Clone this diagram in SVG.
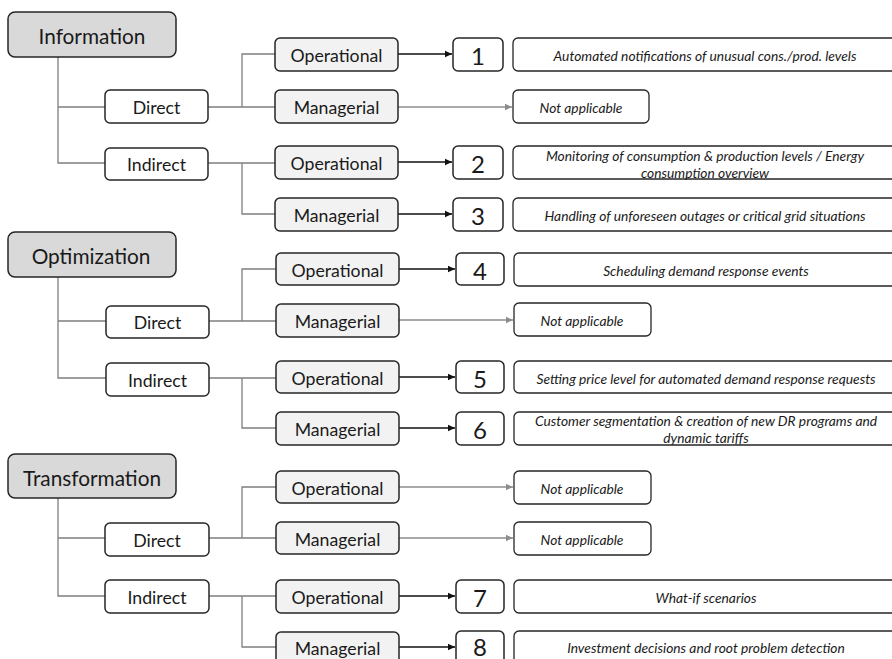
<svg xmlns="http://www.w3.org/2000/svg" width="892" height="659" viewBox="0 0 892 659">
<style>
text{font-family:Lato,"Open Sans","Liberation Sans",sans-serif;fill:#1a1a1a;text-anchor:middle;dominant-baseline:central}
.top rect{fill:#d9d9d9;stroke:#262626;stroke-width:1.5}
.top text{font-size:20.8px}
.mid rect{fill:#ffffff;stroke:#262626;stroke-width:1.5}
.mid text{font-size:17.7px}
.leaf rect{fill:#f2f2f2;stroke:#262626;stroke-width:1.5}
.leaf text{font-size:17.7px}
.num rect{fill:#ffffff;stroke:#262626;stroke-width:1.5}
.num text{font-size:24px}
.desc rect{fill:#ffffff;stroke:#262626;stroke-width:1.3}
.desc text{font-size:13.8px;font-style:italic}
.tree path{fill:none;stroke:#7f7f7f;stroke-width:1.3}
.ab{fill:none;stroke:#111;stroke-width:1.6;marker-end:url(#mb)}
.ag{fill:none;stroke:#8c8c8c;stroke-width:1.3;marker-end:url(#mg)}
</style>
<defs>
<marker id="mb" markerWidth="8" markerHeight="8" refX="7" refY="4" orient="auto" markerUnits="userSpaceOnUse"><path d="M0,0.8 L7,4 L0,7.2 Z" fill="#111"/></marker>
<marker id="mg" markerWidth="8" markerHeight="8" refX="7" refY="4" orient="auto" markerUnits="userSpaceOnUse"><path d="M0,0.8 L7,4 L0,7.2 Z" fill="#8c8c8c"/></marker>
</defs>
<rect width="892" height="659" fill="#ffffff"/>

<g id="connectors">
<g class="tree">
<path d="M58 57 V163 H105 M58 107 H105 M208 107 H275 M242 107 V54 H275 M208 163 H242 V214 H275 M242 163 H275"/>
<path d="M58 277 V378 H106 M58 321 H106 M209 321 H276 M242 321 V269 H276 M209 378 H242 V428 H276 M242 378 H276"/>
<path d="M58 498 V596 H105 M58 538 H105 M209 538 H276 M242 538 V487 H276 M209 596 H242 V647 H276 M242 596 H276"/>
</g>
<path class="ab" d="M398 54 H452"/>
<path class="ag" d="M398 107 H512"/>
<path class="ab" d="M398 162 H452"/>
<path class="ab" d="M398 214 H452"/>
<path class="ab" d="M399 269 H455"/>
<path class="ag" d="M399 320 H513"/>
<path class="ab" d="M399 377 H455"/>
<path class="ab" d="M399 428 H455"/>
<path class="ag" d="M399 487 H513"/>
<path class="ag" d="M399 538 H513"/>
<path class="ab" d="M399 596 H455"/>
<path class="ab" d="M399 647 H455"/>
</g>

<!-- Section 1 -->
<g id="information" class="top"><rect x="8" y="12" width="168" height="45" rx="7"/><text x="92" y="35">Information</text></g>
<g id="info-direct" class="mid"><rect x="105" y="90" width="103" height="33" rx="5"/><text x="156.5" y="107">Direct</text></g>
<g id="info-indirect" class="mid"><rect x="105" y="148" width="103" height="32" rx="5"/><text x="156.5" y="164">Indirect</text></g>
<g id="info-d-op" class="leaf"><rect x="275" y="38" width="123" height="33" rx="5"/><text x="336.5" y="55">Operational</text></g>
<g id="info-d-man" class="leaf"><rect x="275" y="90" width="123" height="33" rx="5"/><text x="336.5" y="107">Managerial</text></g>
<g id="info-i-op" class="leaf"><rect x="275" y="146" width="123" height="33" rx="5"/><text x="336.5" y="163">Operational</text></g>
<g id="info-i-man" class="leaf"><rect x="275" y="198" width="123" height="33" rx="5"/><text x="336.5" y="215">Managerial</text></g>
<g id="n1" class="num"><rect x="453" y="38" width="50" height="33" rx="5"/><text x="478" y="55">1</text></g>
<g id="d1" class="desc"><rect x="513" y="38" width="386" height="33" rx="5"/><text x="705" y="55">Automated notifications of unusual cons./prod. levels</text></g>
<g id="na1" class="desc"><rect x="513" y="90" width="136" height="33" rx="5"/><text x="581" y="107">Not applicable</text></g>
<g id="n2" class="num"><rect x="453" y="146" width="50" height="33" rx="5"/><text x="478" y="163">2</text></g>
<g id="d2" class="desc"><rect x="513" y="146" width="386" height="33" rx="5"/><text x="705" y="155">Monitoring of consumption &amp; production levels / Energy</text><text x="705" y="172">consumption overview</text></g>
<g id="n3" class="num"><rect x="453" y="198" width="50" height="33" rx="5"/><text x="478" y="215">3</text></g>
<g id="d3" class="desc"><rect x="513" y="198" width="386" height="33" rx="5"/><text x="705" y="215">Handling of unforeseen outages or critical grid situations</text></g>

<!-- Section 2 -->
<g id="optimization" class="top"><rect x="8" y="232" width="168" height="45" rx="7"/><text x="91" y="255">Optimization</text></g>
<g id="opt-direct" class="mid"><rect x="106" y="306" width="103" height="32" rx="5"/><text x="157.5" y="322.5">Direct</text></g>
<g id="opt-indirect" class="mid"><rect x="106" y="363" width="103" height="33" rx="5"/><text x="157.5" y="380">Indirect</text></g>
<g id="opt-d-op" class="leaf"><rect x="276" y="253" width="123" height="32" rx="5"/><text x="337.5" y="270">Operational</text></g>
<g id="opt-d-man" class="leaf"><rect x="276" y="304" width="123" height="33" rx="5"/><text x="337.5" y="321">Managerial</text></g>
<g id="opt-i-op" class="leaf"><rect x="276" y="361" width="123" height="32" rx="5"/><text x="337.5" y="378">Operational</text></g>
<g id="opt-i-man" class="leaf"><rect x="276" y="412" width="123" height="33" rx="5"/><text x="337.5" y="429">Managerial</text></g>
<g id="n4" class="num"><rect x="456" y="253" width="48" height="32" rx="5"/><text x="480" y="270">4</text></g>
<g id="d4" class="desc"><rect x="514" y="253" width="386" height="33" rx="5"/><text x="706" y="270">Scheduling demand response events</text></g>
<g id="na2" class="desc"><rect x="514" y="303" width="137" height="33" rx="5"/><text x="582" y="320">Not applicable</text></g>
<g id="n5" class="num"><rect x="456" y="361" width="48" height="32" rx="5"/><text x="480" y="378">5</text></g>
<g id="d5" class="desc"><rect x="514" y="361" width="386" height="32" rx="5"/><text x="706" y="378">Setting price level for automated demand response requests</text></g>
<g id="n6" class="num"><rect x="456" y="412" width="48" height="33" rx="5"/><text x="480" y="429">6</text></g>
<g id="d6" class="desc"><rect x="514" y="412" width="386" height="33" rx="5"/><text x="706" y="420">Customer segmentation &amp; creation of new DR programs and</text><text x="706" y="437">dynamic tariffs</text></g>

<!-- Section 3 -->
<g id="transformation" class="top"><rect x="8" y="454" width="168" height="44" rx="7"/><text x="92" y="477">Transformation</text></g>
<g id="tr-direct" class="mid"><rect x="105" y="523" width="104" height="33" rx="5"/><text x="157" y="540">Direct</text></g>
<g id="tr-indirect" class="mid"><rect x="105" y="580" width="104" height="33" rx="5"/><text x="157" y="597">Indirect</text></g>
<g id="tr-d-op" class="leaf"><rect x="276" y="471" width="123" height="32" rx="5"/><text x="337.5" y="488">Operational</text></g>
<g id="tr-d-man" class="leaf"><rect x="276" y="522" width="123" height="32" rx="5"/><text x="337.5" y="539">Managerial</text></g>
<g id="tr-i-op" class="leaf"><rect x="276" y="580" width="123" height="33" rx="5"/><text x="337.5" y="597">Operational</text></g>
<g id="tr-i-man" class="leaf"><rect x="276" y="632" width="123" height="33" rx="5"/><text x="337.5" y="648">Managerial</text></g>
<g id="na3" class="desc"><rect x="514" y="471" width="137" height="33" rx="5"/><text x="582" y="488">Not applicable</text></g>
<g id="na4" class="desc"><rect x="514" y="522" width="137" height="33" rx="5"/><text x="582" y="539">Not applicable</text></g>
<g id="n7" class="num"><rect x="456" y="580" width="48" height="33" rx="5"/><text x="480" y="597">7</text></g>
<g id="d7" class="desc"><rect x="514" y="580" width="386" height="33" rx="5"/><text x="706" y="597">What-if scenarios</text></g>
<g id="n8" class="num"><rect x="456" y="631" width="48" height="33" rx="5"/><text x="480" y="646.5">8</text></g>
<g id="d8" class="desc"><rect x="514" y="631" width="386" height="33" rx="5"/><text x="706" y="647">Investment decisions and root problem detection</text></g>
</svg>
